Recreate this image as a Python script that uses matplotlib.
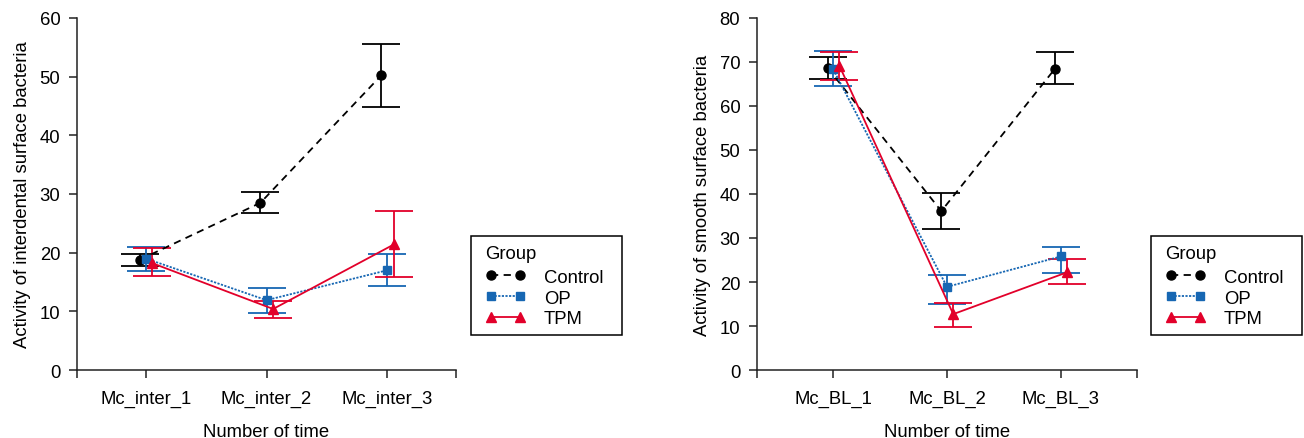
import matplotlib
matplotlib.use("Agg")
import matplotlib.pyplot as plt
from matplotlib.patches import Rectangle
import numpy as np

plt.rcParams['font.family'] = ['Liberation Sans', 'DejaVu Sans']

# ---- data ----
groups = ["Control", "OP", "TPM"]

left_cats = ["Mc_inter_1", "Mc_inter_2", "Mc_inter_3"]
left_mean = {"Control": [18.8, 28.5, 50.2], "OP": [19.0, 11.9, 17.0], "TPM": [18.2, 10.4, 21.4]}
left_lo = {"Control": [17.8, 26.8, 44.8], "OP": [16.8, 9.8, 14.3], "TPM": [16.0, 8.8, 15.8]}
left_hi = {"Control": [19.8, 30.3, 55.6], "OP": [21.0, 13.9, 19.7], "TPM": [20.8, 11.8, 27.1]}

right_cats = ["Mc_BL_1", "Mc_BL_2", "Mc_BL_3"]
right_mean = {"Control": [68.7, 36.1, 68.5], "OP": [68.3, 18.9, 25.8], "TPM": [69.1, 12.7, 22.2]}
right_lo = {"Control": [66.1, 32.0, 64.9], "OP": [64.5, 14.9, 22.0], "TPM": [66.0, 9.8, 19.6]}
right_hi = {"Control": [71.1, 40.3, 72.2], "OP": [72.4, 21.6, 28.0], "TPM": [72.3, 15.2, 25.2]}

# ---- styles ----
style = {
    "Control": dict(color="black", ls=(0, (4, 3)), marker="o", ms=6.5, dodge=-0.05),
    "OP": dict(color="#1767b3", ls=(0, (1.2, 0.8)), marker="s", ms=5.5, dodge=0.0),
    "TPM": dict(color="#e2002a", ls="-", marker="^", ms=7.5, dodge=0.055),
}
FS = 13.3
AXCOL = "#222222"

fig = plt.figure(figsize=(13.04, 4.39), dpi=100)
W, H = 1304, 439


def add_panel(left_px, right_px, cats, mean, lo, hi, ymax, ylabel, xpad, legend_x):
    ax = fig.add_axes([left_px / W, 1 - 371 / H, (right_px - left_px) / W, (371 - 19) / H])
    x = np.arange(1, len(cats) + 1)
    handles = []
    for g in groups:
        st = style[g]
        xs = x + st["dodge"]
        m = np.array(mean[g])
        yerr = [m - np.array(lo[g]), np.array(hi[g]) - m]
        ax.errorbar(xs, m, yerr=yerr, fmt="none", ecolor=st["color"], elinewidth=1.3,
                    capsize=13.5, capthick=1.3, zorder=2)
        h, = ax.plot(xs, m, color=st["color"], ls=st["ls"], lw=1.3, marker=st["marker"],
                     ms=st["ms"], mfc=st["color"], mec=st["color"], label=g, zorder=3)
        handles.append(h)

    xlo, xhi = 1 - xpad, 3 + xpad
    ax.set_xlim(xlo, xhi)
    ax.set_ylim(0, ymax)
    ax.set_xticks([xlo, 1, 2, 3, xhi])
    ax.set_xticklabels([""] + cats + [""], fontsize=FS)
    ax.set_yticks(np.arange(0, ymax + 1, 10))
    ax.tick_params(axis="both", direction="out", length=6, width=1.1, colors=AXCOL,
                   labelcolor="black", labelsize=FS)
    ax.tick_params(axis="x", pad=8)
    ax.tick_params(axis="y", pad=6)
    for s in ["top", "right"]:
        ax.spines[s].set_visible(False)
    for s in ["left", "bottom"]:
        ax.spines[s].set_color(AXCOL)
        ax.spines[s].set_linewidth(1.1)
    ax.set_xlabel("Number of time", fontsize=FS, labelpad=12)
    ax.set_ylabel(ylabel, fontsize=FS, labelpad=6)

    # legend content without frame, frame drawn as a box of fixed size
    leg = fig.legend(handles=handles, labels=groups, title="Group", loc="upper left",
                     bbox_to_anchor=((legend_x + 14) / W, 1 - 246 / H), bbox_transform=fig.transFigure,
                     borderaxespad=0, borderpad=0, fontsize=FS, title_fontsize=FS, numpoints=2,
                     handlelength=2.2, handletextpad=1.0, labelspacing=0.2,
                     frameon=False, alignment="left")
    leg._legend_box.sep = 5
    fig.add_artist(Rectangle((legend_x / W, 1 - 336 / H), 151 / W, 99 / H,
                             transform=fig.transFigure, fill=False, ec="black", lw=1.1))
    return ax


add_panel(77, 456, left_cats, left_mean, left_lo, left_hi, 60,
          "Activity of interdental surface bacteria", 0.57, 471)
add_panel(757, 1137, right_cats, right_mean, right_lo, right_hi, 80,
          "Activity of smooth surface bacteria", 0.67, 1151)

fig.savefig("out.png", dpi=100)
